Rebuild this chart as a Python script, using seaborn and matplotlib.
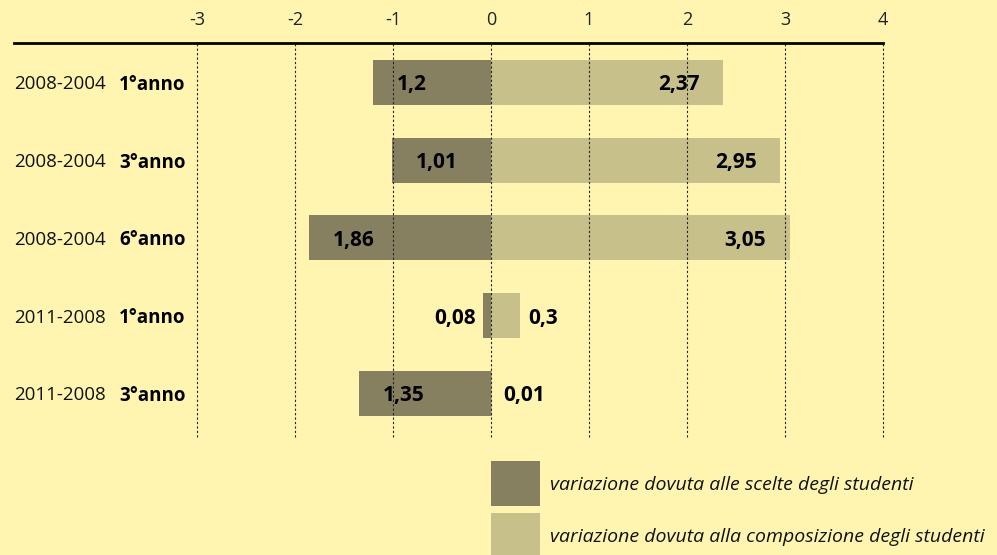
import matplotlib.pyplot as plt
import pandas as pd
import seaborn as sns
from matplotlib.patches import Rectangle

periods = ["2008-2004", "2008-2004", "2008-2004", "2011-2008", "2011-2008"]
years = ["1°anno", "3°anno", "6°anno", "1°anno", "3°anno"]
scelte = [1.2, 1.01, 1.86, 0.08, 1.35]          # drawn to the left (negative)
composizione = [2.37, 2.95, 3.05, 0.3, 0.01]
ticks = [-3, -2, -1, 0, 1, 2, 3, 4]
legend_labels = [
    "variazione dovuta alle scelte degli studenti",
    "variazione dovuta alla composizione degli studenti",
]

BG = "#FFF5B0"
DARK = "#878060"
LIGHT = "#C8C08A"


def fmt(v: float) -> str:
    return f"{v:g}".replace(".", ",")


def main() -> None:
    sns.set_theme(style="white")
    plt.rcParams["font.family"] = ["Open Sans", "DejaVu Sans"]

    df = pd.DataFrame({
        "label": [f"{p} {y}" for p, y in zip(periods, years)],
        "scelte": [-v for v in scelte],
        "composizione": composizione,
    })

    fig = plt.figure(figsize=(9.97, 5.55), dpi=100, facecolor=BG)
    ax = fig.add_axes([14 / 997, 118 / 555, 869 / 997, (512.3 - 118) / 555])
    ax.set_facecolor(BG)

    bar_kw = dict(orient="h", saturation=1, width=0.58, ax=ax, linewidth=0, edgecolor="none")
    sns.barplot(data=df, y="label", x="scelte", color=DARK, **bar_kw)
    sns.barplot(data=df, y="label", x="composizione", color=LIGHT, **bar_kw)

    ax.set_xlim(-(491 - 14) / 98, 4)
    ax.set_ylim(4.56, -0.51)
    ax.set_xticks(ticks)
    ax.set_xticklabels([str(t) for t in ticks])
    ax.xaxis.tick_top()
    ax.tick_params(axis="x", length=0, pad=10, labelsize=13, labelcolor="#222222")
    ax.set_yticks([])
    ax.set_xlabel("")
    ax.set_ylabel("")
    for t in ticks:
        ax.axvline(t, color="#222222", linestyle=(0, (2, 2)), linewidth=0.8,
                   zorder=3, clip_on=False)
    for s in ["left", "right", "bottom"]:
        ax.spines[s].set_visible(False)
    ax.spines["top"].set_linewidth(2)
    ax.spines["top"].set_color("black")
    ax.spines["top"].set_zorder(4)

    for i, (p, y) in enumerate(zip(periods, years)):
        ax.text(-(491 - 14) / 98, i, p, ha="left", va="center_baseline",
                fontsize=13.5, color="#111111")
        ax.text(-(491 - 119) / 98, i, y, ha="left", va="center_baseline", fontsize=13.5,
                fontweight="bold", color="black")

    num_kw = dict(textcoords="offset points", va="center_baseline", fontsize=15,
                  fontweight="bold", color="black", zorder=5)
    for i, (d, c) in enumerate(zip(scelte, composizione)):
        if d * 98 > 50:
            ax.annotate(fmt(d), (-d, i), xytext=(17, 0), ha="left", **num_kw)
        else:
            ax.annotate(fmt(d), (-d, i), xytext=(-5, 0), ha="right", **num_kw)
        if c * 98 > 50:
            ax.annotate(fmt(c), (c, i), xytext=(-17, 0), ha="right", **num_kw)
        else:
            ax.annotate(fmt(c), (max(c, 0.04), i), xytext=(6, 0), ha="left", **num_kw)

    # legend
    for k, (col, lab) in enumerate(zip([DARK, LIGHT], legend_labels)):
        top = 461 + k * 52
        fig.add_artist(Rectangle((491 / 997, 1 - (top + 45) / 555), 49 / 997, 45 / 555,
                                 transform=fig.transFigure, facecolor=col, edgecolor="none"))
        fig.text(550 / 997, 1 - (top + 22.5) / 555, lab, ha="left", va="center_baseline",
                 fontsize=14, fontstyle="italic", color="#111111")

    fig.savefig("out.png", dpi=100, facecolor=BG)
    plt.close(fig)


if __name__ == "__main__":
    main()
